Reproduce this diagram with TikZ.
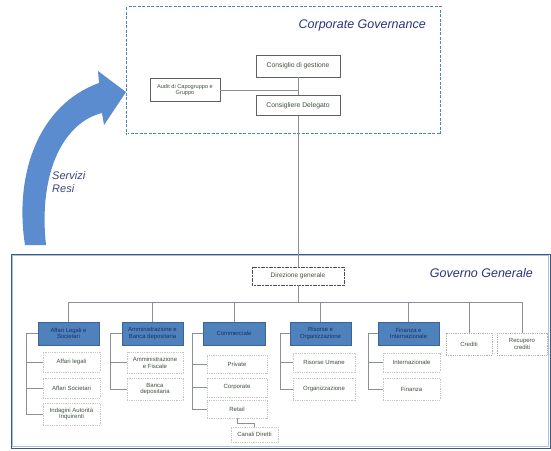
\documentclass[tikz,border=0pt]{standalone}
\usepackage{fontspec}
\setmainfont{Liberation Sans}
\setsansfont{Liberation Sans}
\usetikzlibrary{positioning}
\definecolor{headfill}{HTML}{4F81BD}
\definecolor{headdraw}{HTML}{3A6496}
\definecolor{headtext}{HTML}{1C2F5E}
\definecolor{boxtext}{HTML}{3F4F3F}
\definecolor{titleblue}{HTML}{28357A}
\definecolor{arrowblue}{HTML}{5A8CCF}
\definecolor{framedark}{HTML}{3C5A82}
\definecolor{framelight}{HTML}{A9C0DE}
\definecolor{linegray}{HTML}{8A8F98}
\begin{document}
\begin{tikzpicture}[x=1pt,y=-1pt,
  topbox/.style={draw=gray!75!black, line width=0.5pt, fill=white, text=boxtext,
    font=\fontsize{6.8}{7.6}\selectfont, align=center, inner sep=1pt},
  headbox/.style={draw=headdraw, line width=0.5pt, fill=headfill, text=headtext,
    font=\fontsize{5.9}{6.6}\selectfont, align=center, inner sep=1pt,
    minimum height=23pt, minimum width=61pt},
  subbox/.style={draw=gray!45, dash pattern=on 1pt off 0.8pt, line width=0.5pt,
    fill=white, text=boxtext, font=\fontsize{6}{6.8}\selectfont, align=center,
    inner sep=1pt},
  link/.style={draw=linegray, line width=0.8pt},
  title/.style={font=\fontsize{12.5}{14}\selectfont\itshape, text=titleblue, inner sep=0pt}]
\useasboundingbox (0,0) rectangle (551,450);
\fill[white] (0,0) rectangle (551,450);

% ---- Corporate Governance frame ----
\draw[draw=headfill, line width=0.6pt, dash pattern=on 3pt off 1.5pt, double=white,
  double distance=1pt] (127,7) rectangle (441,134);
\node[title, anchor=east] (cgtitle) at (426,25) {Corporate Governance};

\node[topbox, minimum width=84pt, minimum height=22pt] (cdg) at (298,66) {Consiglio di gestione};
\node[topbox, minimum width=84pt, minimum height=20pt] (cd) at (298,105.5) {Consigliere Delegato};
\node[topbox, minimum width=70pt, minimum height=23pt, font=\fontsize{5.6}{6.4}\selectfont]
  (audit) at (185,90) {Audit di Capogruppo e\\Gruppo};

% ---- Governo Generale frame ----
\draw[framedark, line width=1pt] (11,254) rectangle (550,448);
\draw[framelight, line width=0.6pt] (12.6,255.6) rectangle (548.4,446.4);
\node[title, anchor=east] (ggtitle) at (533,273) {Governo Generale};

\node[topbox, draw=gray!60!black, dash pattern=on 1.2pt off 0.4pt, minimum width=92pt,
  minimum height=18pt, font=\fontsize{6.5}{7.2}\selectfont] (dg) at (298,276) {Direzione generale};

% first level
\node[headbox] (alg) at (68.5,333.5) {Affari Legali e\\Societari};
\node[headbox] (abd) at (152.5,333.5) {Amministrazione e\\Banca depositaria};
\node[headbox, minimum width=62pt] (com) at (234,333.5) {Commerciale};
\node[headbox] (ro) at (320.5,333.5) {Risorse e\\Organizzazione};
\node[headbox] (fi) at (408.5,333.5) {Finanza e\\Internazionale};
\node[subbox, draw=gray!60, minimum width=46pt, minimum height=22pt] (cred) at (469,344) {Crediti};
\node[subbox, draw=gray!60, minimum width=50pt, minimum height=22pt] (rc) at (522,344) {Recupero\\crediti};

% second level
\node[subbox, minimum width=57pt, minimum height=20pt] (al) at (71.5,362) {Affari legali};
\node[subbox, minimum width=57pt, minimum height=20pt] (as) at (71.5,388) {Affari Societari};
\node[subbox, minimum width=57pt, minimum height=22pt] (iai) at (71.5,414) {Indagini Autorità\\Inquirenti};

\node[subbox, minimum width=56pt, minimum height=21pt] (aef) at (155,362.5) {Amministrazione\\e Fiscale};
\node[subbox, minimum width=56pt, minimum height=22pt] (bdep) at (155,389) {Banca\\depositaria};

\node[subbox, minimum width=60pt, minimum height=18pt] (priv) at (237,364) {Private};
\node[subbox, minimum width=60pt, minimum height=19pt] (corp) at (237,387.5) {Corporate};
\node[subbox, minimum width=60pt, minimum height=18pt] (retail) at (237,409) {Retail};
\node[subbox, minimum width=47pt, minimum height=15pt] (canali) at (254.5,434.5) {Canali Diretti};

\node[subbox, minimum width=62pt, minimum height=19pt] (ru) at (324,362.5) {Risorse Umane};
\node[subbox, minimum width=62pt, minimum height=22pt] (org) at (324,389) {Organizzazione};

\node[subbox, minimum width=57pt, minimum height=19pt] (int) at (411.5,362.5) {Internazionale};
\node[subbox, minimum width=57pt, minimum height=22pt] (fin) at (411.5,389) {Finanza};

% ---- connectors ----
\coordinate (bus) at (0,302);
\draw[link] (cdg.south) -- (cd.north);
\draw[link] (audit.east) -- (audit.east -| cd.north);
\draw[link] (cd.south) -- (dg.north);
\draw[link] (dg.south) -- (dg.south |- bus);
\draw[link] (alg.north |- bus) -- (rc.north |- bus);
\foreach \n in {alg,abd,com,ro,fi,cred,rc}
  \draw[link] (\n.north |- bus) -- (\n.north);

\coordinate (tA) at (26,333.5);
\draw[link] (alg.west) -- (tA) |- (iai.west);
\draw[link] (tA) |- (al.west);
\draw[link] (tA) |- (as.west);

\coordinate (tB) at (110,333.5);
\draw[link] (abd.west) -- (tB) |- (bdep.west);
\draw[link] (tB) |- (aef.west);

\coordinate (tC) at (192,333.5);
\draw[link] (com.west) -- (tC) |- (retail.west);
\draw[link] (tC) |- (priv.west);
\draw[link] (tC) |- (corp.west);
\draw[link] (retail.south) -- ++(0,5) -| (canali.north);

\coordinate (tD) at (280,333.5);
\draw[link] (ro.west) -- (tD) |- (org.west);
\draw[link] (tD) |- (ru.west);

\coordinate (tE) at (368,333.5);
\draw[link] (fi.west) -- (tE) |- (fin.west);
\draw[link] (tE) |- (int.west);

% ---- curved arrow: services rendered ----
\fill[arrowblue] (25,245) .. controls (14,175) and (38,105) .. (99,83)
  -- (98,71) -- (126,92) -- (104,125) -- (102,113)
  .. controls (65,122) and (38,170) .. (46,245) -- cycle;
\node[font=\fontsize{11}{13}\selectfont\itshape, text=titleblue!80!gray, anchor=west,
  align=left, inner sep=0pt] (servizi) at (52,182) {Servizi\\Resi};
\end{tikzpicture}
\end{document}
